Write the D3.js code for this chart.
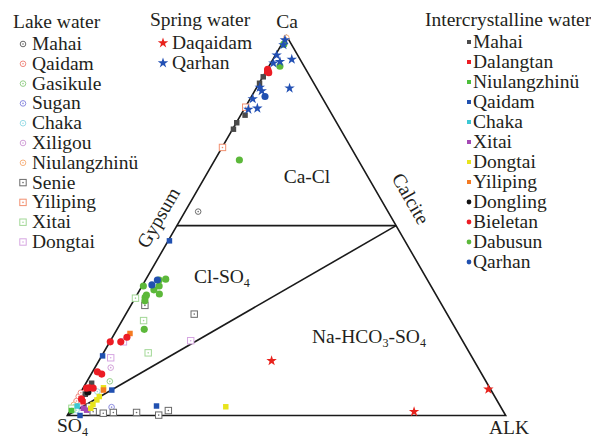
<!DOCTYPE html>
<html>
<head>
<meta charset="utf-8">
<script src="https://cdn.jsdelivr.net/npm/d3@7"></script>
<style>
  html, body { margin: 0; padding: 0; background: #fff; }
  svg { display: block; font-family: "Liberation Serif", "Times New Roman", serif; }
</style>
</head>
<body>
<svg id="chart" width="591" height="439"></svg>
<script>
// Ternary diagram: Ca (apex), SO4 (lower left), ALK (lower right).
// Each sample is [Ca %, ALK %]; SO4 % is the remainder.

// ---- Lake water ----
const lakeMahai = [[53.7, 3.0]];
const lakeQaidam = [[5.0, 0.1], [3.8, 0.2], [6.0, 0.1]];
const lakeGasikule = [[9.0, 5.2]];
const lakeSugan = [[2.2, 9.0]];
const lakeChaka = [[6.3, 3.7], [1.4, 1.4]];
const lakeXiligou = [[12.6, 3.6]];
const lakeNiulangzhinu = [[99.5, 0.2], [2.8, 0.1]];
const lakeSenie = [[29.0, 3.2], [26.7, 15.6], [2.3, 3.9], [1.0, 5.4], [0.6, 7.9], [0.8, 10.1], [0.8, 15.4], [0.1, 20.8], [1.3, 22.4]];
const lakeYiliping = [[81.2, 0.1], [70.6, 0.1]];
const lakeXitai = [[25.0, 4.9], [16.5, 10.2], [1.9, 0.1], [30.9, 0.1]];
const lakeDongtai = [[19.4, 3.1], [15.2, 2.3], [19.7, 18.3]];

// ---- Spring water ----
const springDaqaidam = [[14.4, 39.4], [6.9, 92.6], [1.0, 78.6]];
const springQarhan = [[98.9, 0.2], [97.6, 0.5], [93.8, 4.3], [94.9, 0.3], [93.2, 1.9], [92.8, 0.6],
  [86.4, 0.7], [85.5, 1.6], [86.2, 7.6], [83.4, 0.6], [80.6, 1.0], [80.9, 2.9]];

// ---- Intercrystalline water ----
const icMahai = [[89.2, 0.1], [87.5, 0.1], [79.1, 1.0], [77.1, 0.1], [75.4, 0.2], [8.5, 1.3], [5.6, 1.3]];
const icDalangtan = [[90.6, 0.2], [3.6, 1.8]];
const icNiulangzhinu = [[1.3, 0.3]];
const icQaidam = [[46.0, 0.3], [15.7, 0.2], [6.7, 6.8], [2.5, 19.1], [0.0, 2.9]];
const icChaka = [[2.5, 1.0]];
const icXitai = [[1.9, 2.7], [1.4, 3.7]];
const icDongtai = [[7.3, 4.6], [4.1, 4.7], [5.0, 4.8], [2.9, 4.4], [1.9, 4.4], [2.3, 35.0]];
const icYiliping = [[21.6, 3.5], [6.7, 4.9]];
const icDongling = [[6.2, 1.6]];
const icBieletan = [[20.6, 3.3], [19.4, 2.5], [19.4, 0.1], [11.5, 1.1], [10.9, 2.4], [7.3, 1.4],
  [7.2, 2.3], [7.2, 0.8], [4.3, 1.1], [90.9, 0.3], [90.3, 0.8], [91.2, 0.1]];
const icDabusun = [[92.0, 2.5], [67.3, 5.6], [35.9, 4.5], [35.7, 3.1], [34.1, 3.9], [33.1, 3.2],
  [32.0, 5.0], [31.7, 2.2], [31.1, 2.2], [34.1, 0.3], [30.2, 2.6], [22.7, 6.2], [97.8, 0.5]];
const icQarhan = [[84.0, 3.1], [35.7, 2.7], [34.4, 2.1]];

// Series tables (name, values) per legend group
const lakeSeries = [
  ["Mahai", lakeMahai], ["Qaidam", lakeQaidam], ["Gasikule", lakeGasikule], ["Sugan", lakeSugan],
  ["Chaka", lakeChaka], ["Xiligou", lakeXiligou], ["Niulangzhinü", lakeNiulangzhinu],
  ["Senie", lakeSenie], ["Yiliping", lakeYiliping], ["Xitai", lakeXitai], ["Dongtai", lakeDongtai]
];
const springSeries = [["Daqaidam", springDaqaidam], ["Qarhan", springQarhan]];
const icSeries = [
  ["Mahai", icMahai], ["Dalangtan", icDalangtan], ["Niulangzhinü", icNiulangzhinu], ["Qaidam", icQaidam],
  ["Chaka", icChaka], ["Xitai", icXitai], ["Dongtai", icDongtai], ["Yiliping", icYiliping],
  ["Dongling", icDongling], ["Bieletan", icBieletan], ["Dabusun", icDabusun], ["Qarhan", icQarhan]
];

// Marker styles
const lakeStyle = [
  { shape: "circle", color: "#6a6a6a" }, { shape: "circle", color: "#f08a80" },
  { shape: "circle", color: "#96d08a" }, { shape: "circle", color: "#8c8ce0" },
  { shape: "circle", color: "#9adce6" }, { shape: "circle", color: "#d2a0d8" },
  { shape: "circle", color: "#f6b27e" }, { shape: "square", color: "#6a6a6a" },
  { shape: "square", color: "#f29070" }, { shape: "square", color: "#a2d896" },
  { shape: "square", color: "#d6a6e2" }
];
const springStyle = [{ color: "#e8221c" }, { color: "#2250b4" }];
const icStyle = [
  { shape: "square", color: "#4a4a4a" }, { shape: "square", color: "#ec1c24" },
  { shape: "square", color: "#4cbf3a" }, { shape: "square", color: "#2050b0" },
  { shape: "square", color: "#3cc8d4" }, { shape: "square", color: "#a448b4" },
  { shape: "square", color: "#e8e41c" }, { shape: "square", color: "#f47a22" },
  { shape: "circle", color: "#111111" }, { shape: "circle", color: "#ec1c24" },
  { shape: "circle", color: "#5cb83a" }, { shape: "circle", color: "#2050b0" }
];

const svg = d3.select("#chart");
const textColor = "#231f20";

// Ternary projection through linear scales
const yScale = d3.scaleLinear().domain([0, 100]).range([415.5, 35.8]);
const xScale = d3.scaleLinear().domain([0, 100]).range([67.3, 505.7]);
const project = (ca, alk) => [xScale(alk + ca / 2), yScale(ca)];

// Boundary lines
const line = d3.line();
const frame = svg.append("g").attr("fill", "none").attr("stroke", "#1a1a1a").attr("stroke-width", 1.6);
frame.append("path").attr("d", line([project(0, 0), project(100, 0), project(0, 100)]) + "Z")
  .attr("stroke-linejoin", "miter");
frame.append("path").attr("d", line([project(50, 0), project(50, 50)]));
frame.append("path").attr("d", line([project(0, 0), project(50, 50)]));

// Markers
const starPath = d3.symbol().type(d3.symbolStar).size(34)();
const sqPath = d3.symbol().type(d3.symbolSquare).size(30)();
const circPath = d3.symbol().type(d3.symbolCircle).size(40)();

function drawLake(g, shape, color) {
  if (shape === "circle") {
    g.append("circle").attr("r", 2.8).attr("fill", "#fff").attr("stroke", color).attr("stroke-width", 1);
  } else {
    g.append("rect").attr("x", -3.2).attr("y", -3.2).attr("width", 6.4).attr("height", 6.4)
      .attr("fill", "#fff").attr("stroke", color).attr("stroke-width", 1);
  }
  g.append("circle").attr("r", 0.8).attr("fill", color);
}
function drawIc(g, shape, color) {
  g.append("path").attr("d", shape === "circle" ? circPath : sqPath).attr("fill", color);
}
function drawSpring(g, color) {
  g.append("path").attr("d", starPath).attr("fill", color);
}

const marks = svg.append("g");
lakeSeries.forEach(([name, vals], i) => {
  vals.forEach(([ca, alk]) => {
    const [px, py] = project(ca, alk);
    drawLake(marks.append("g").attr("transform", `translate(${px},${py})`), lakeStyle[i].shape, lakeStyle[i].color);
  });
});
icSeries.forEach(([name, vals], i) => {
  vals.forEach(([ca, alk]) => {
    const [px, py] = project(ca, alk);
    drawIc(marks.append("g").attr("transform", `translate(${px},${py})`), icStyle[i].shape, icStyle[i].color);
  });
});
springSeries.forEach(([name, vals], i) => {
  vals.forEach(([ca, alk]) => {
    const [px, py] = project(ca, alk);
    drawSpring(marks.append("g").attr("transform", `translate(${px},${py})`), springStyle[i].color);
  });
});

// Vertex and field labels
const fs = 19.5;
function label(x, y, parts, anchor) {
  const t = svg.append("text").attr("x", x).attr("y", y).attr("font-size", fs)
    .attr("fill", textColor).attr("text-anchor", anchor || "start");
  let shift = 0;
  parts.forEach(([txt, isSub]) => {
    const dy = isSub ? 4 - shift : -shift;
    shift = isSub ? 4 : 0;
    const s = t.append("tspan").attr("dy", dy).text(txt);
    if (isSub) s.attr("font-size", fs * 0.62);
  });
  return t;
}
label(287, 28, [["Ca"]], "middle");
label(57, 432, [["SO"], ["4", true]]);
label(509, 434, [["ALK"]], "middle");
label(307, 183, [["Ca-Cl"]], "middle");
label(194, 283, [["Cl-SO"], ["4", true]]);
label(312, 343, [["Na-HCO"], ["3", true], ["-SO"], ["4", true]]);

svg.append("text").attr("transform", "translate(164,221) rotate(-60)").attr("text-anchor", "middle")
  .attr("font-size", fs).attr("fill", textColor).text("Gypsum");
svg.append("text").attr("transform", "translate(405,202) rotate(60)").attr("text-anchor", "middle")
  .attr("font-size", fs).attr("fill", textColor).text("Calcite");

// Lake water legend
svg.append("text").attr("x", 13).attr("y", 28).attr("font-size", fs).attr("fill", textColor).text("Lake water");
lakeSeries.forEach(([name], i) => {
  const yy = 50 + i * 19.8;
  drawLake(svg.append("g").attr("transform", `translate(23,${yy - 6})`), lakeStyle[i].shape, lakeStyle[i].color);
  svg.append("text").attr("x", 32).attr("y", yy).attr("font-size", fs).attr("fill", textColor).text(name);
});
// Spring water legend
svg.append("text").attr("x", 150).attr("y", 26).attr("font-size", fs).attr("fill", textColor).text("Spring water");
springSeries.forEach(([name], i) => {
  const yy = 49 + i * 20;
  drawSpring(svg.append("g").attr("transform", `translate(163,${yy - 6})`), springStyle[i].color);
  svg.append("text").attr("x", 172).attr("y", yy).attr("font-size", fs).attr("fill", textColor).text(name);
});
// Intercrystalline water legend
svg.append("text").attr("x", 425).attr("y", 26).attr("font-size", fs).attr("fill", textColor).text("Intercrystalline water");
const legSq = d3.symbol().type(d3.symbolSquare).size(16)();
const legCirc = d3.symbol().type(d3.symbolCircle).size(18)();
icSeries.forEach(([name], i) => {
  const yy = 48 + i * 20;
  svg.append("path").attr("transform", `translate(469,${yy - 6})`)
    .attr("d", icStyle[i].shape === "circle" ? legCirc : legSq)
    .attr("fill", icStyle[i].color);
  svg.append("text").attr("x", 473).attr("y", yy).attr("font-size", fs).attr("fill", textColor).text(name);
});
</script>
</body>
</html>
